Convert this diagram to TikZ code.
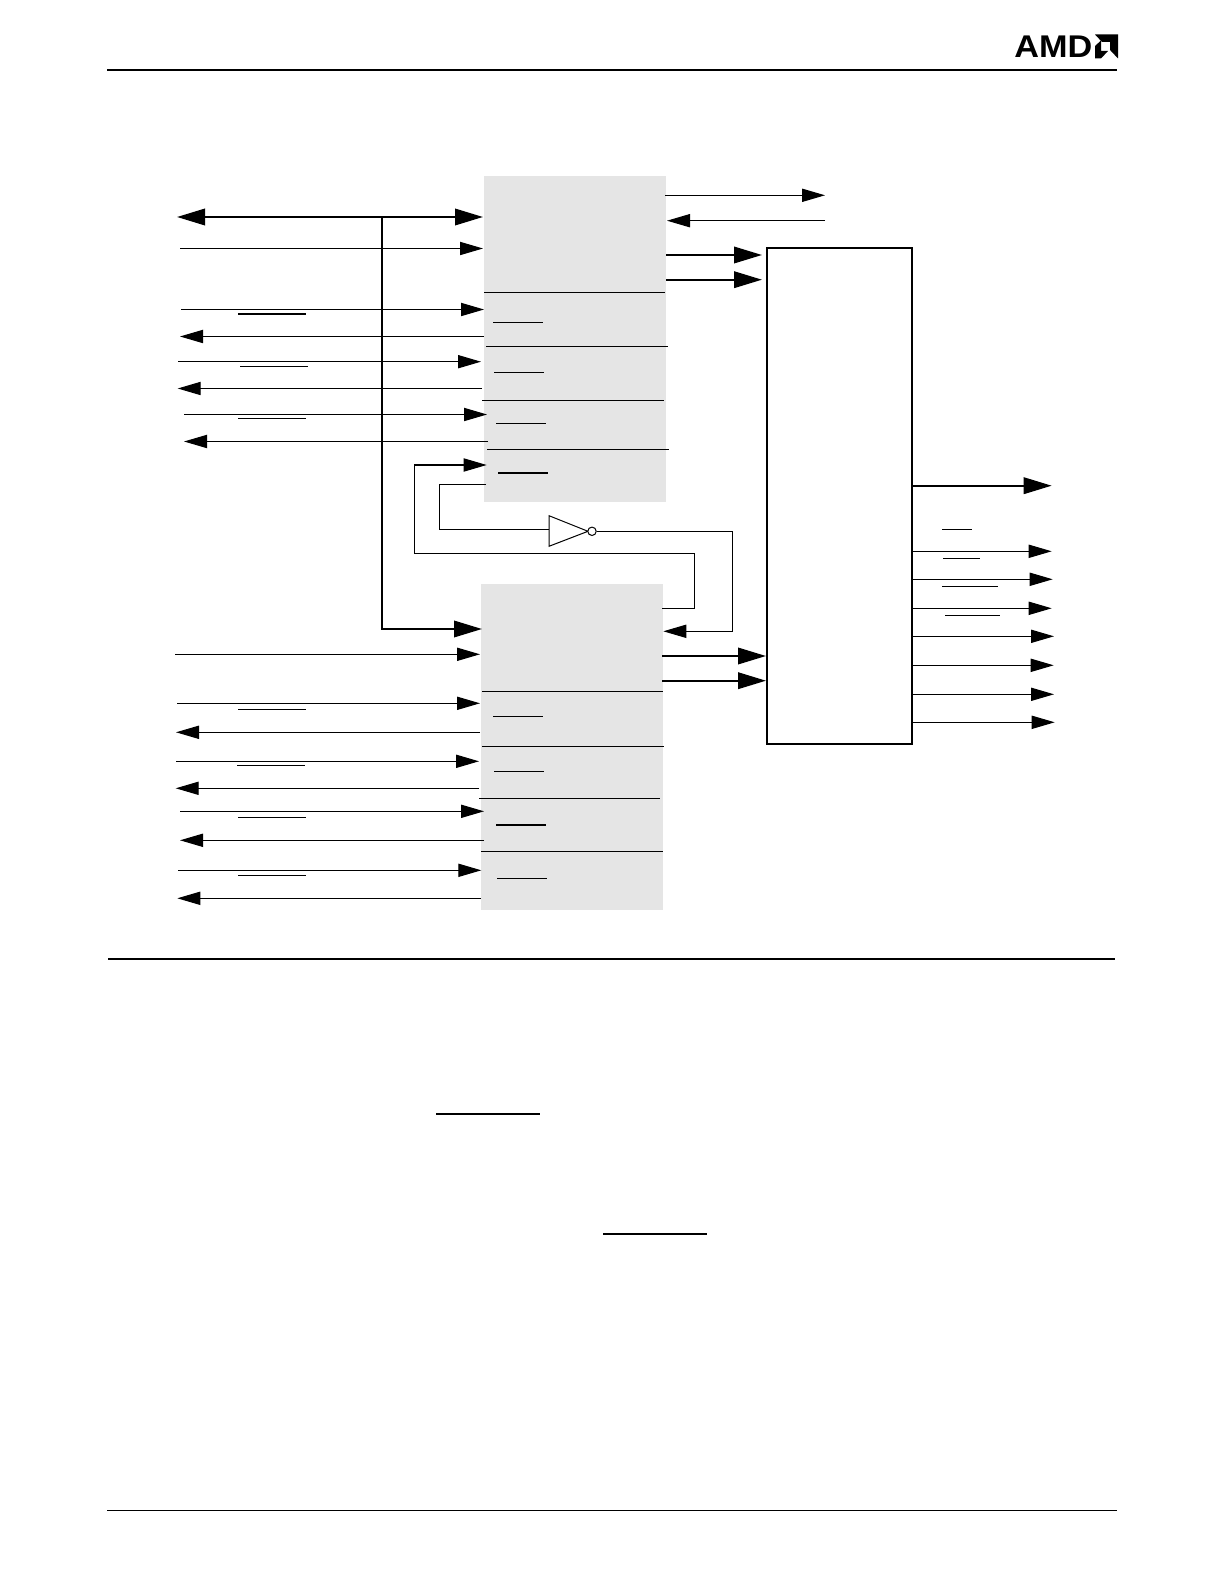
\documentclass[tikz,border=0pt]{standalone}
\usepackage{fontspec}
\usepackage{graphicx}
\setmainfont{Liberation Sans}
\usetikzlibrary{arrows.meta}
\definecolor{panelgrey}{HTML}{E5E5E5}
\tikzset{
  x=0.5pt,y=-0.5pt,
  panel/.style={rectangle,fill=panelgrey,inner sep=0pt,anchor=north west,minimum width=#1},
  thin wire/.style={line width=0.55pt,black},
  thick wire/.style={line width=1.15pt,black},
  thin arrow/.style={thin wire,-{Triangle[length=11.5pt,width=6.6pt]}},
  thick arrow/.style={thick wire,-{Triangle[length=14pt,width=8.2pt]}},
  both thick/.style={thick wire,{Triangle[length=14pt,width=8.2pt]}-{Triangle[length=14pt,width=8.2pt]}},
  sep line/.style={line width=0.5pt,black},
  bar line/.style={line width=0.5pt,black},
  bar thick/.style={line width=0.85pt,black},
  page rule/.style={line width=0.85pt,black},
}
\newcommand{\wire}[5]{\coordinate (#1s) at (#3,#5);\coordinate (#1e) at (#4,#5);\draw[#2] (#1s) -- (#1e);}
\begin{document}
\begin{tikzpicture}
\useasboundingbox (0,0) rectangle (1224,1582);
\fill[white] (0,0) rectangle (1224,1582);
% page rules
\wire{ruleA}{page rule}{107}{1117}{70}
\wire{ruleB}{page rule}{108}{1115}{959}
\wire{ruleC}{page rule}{107}{1117}{1510.5}
% logo
\node[inner sep=0pt,anchor=west] (amd) at (1014,46.5) {\resizebox{39pt}{10.8pt}{\textbf{AMD}}};
\fill[black] (1095,34.5) -- (1118,34.5) -- (1118,58.5) -- (1110,50) -- (1110,42) -- (1102,42) -- cycle;
\fill[black] (1095,58.5) -- (1095,46) -- (1101,40.5) -- (1101,51) -- (1108,51) -- (1101,58.5) -- cycle;
% panels
\node[panel=91pt,minimum height=163pt] (top) at (484,176) {};
\node[panel=91pt,minimum height=163pt] (low) at (481,584) {};
\node[rectangle,draw=black,line width=1.15pt,inner sep=0pt,anchor=north west,minimum width=72.5pt,minimum height=247.75pt,fill=white] (core) at (766,247) {};
% separators top
\wire{sa}{sep line}{484}{665}{292.3}
\wire{sb}{sep line}{486}{668}{346.3}
\wire{sc}{sep line}{482}{664}{400.3}
\wire{sd}{sep line}{487}{669}{449.3}
% separators low
\wire{se}{sep line}{482}{663}{691.3}
\wire{sf}{sep line}{482}{664}{746.3}
\wire{sg}{sep line}{479}{660}{798.3}
\wire{sh}{sep line}{481}{663}{851.3}
% bus
\wire{bus}{both thick}{177}{483}{217}
\coordinate (tap) at (382,217);
\coordinate (busin) at (482,629);
\draw[thick arrow] (tap) |- (busin);
% top left wires
\wire{ta}{thin arrow}{180}{483}{248.5}
\wire{tb}{thin arrow}{181}{484}{309.5}
\wire{tc}{thin arrow}{484}{180}{336.5}
\wire{td}{thin arrow}{178}{481}{361.7}
\wire{te}{thin arrow}{482}{177.7}{388.5}
\wire{tf}{thin arrow}{184}{487}{414.5}
\wire{tg}{thin arrow}{488}{184}{441.5}
% overbars top left
\wire{ba}{bar thick}{238}{306}{314}
\wire{bb}{bar line}{240}{308}{366.5}
\wire{bc}{bar line}{238}{306}{418.5}
\wire{bd}{bar line}{493}{543}{322.3}
\wire{be}{bar line}{494}{544}{372.3}
\wire{bf}{bar line}{496}{546}{423.3}
\wire{bg}{bar thick}{498}{548}{473}
% top right
\wire{ra}{thin arrow}{665}{825}{195.3}
\wire{rb}{thin arrow}{825}{667}{220.7}
\wire{rc}{thick arrow}{666}{762}{255}
\wire{rd}{thick arrow}{666}{762}{279.7}
% feedback
\coordinate (fbA) at (662,608.3);
\coordinate (fbB) at (694.3,553.3);
\coordinate (fbC) at (414.3,465);
\coordinate (fbD) at (486.7,465);
\draw[thin arrow] (fbA) -| (fbB) -| (fbC) -- (fbD);
\coordinate (invT) at (486,484.3);
\coordinate (invL) at (439.3,529.3);
\draw[thin wire] (invT) -| (invL) -- (549,529.3) coordinate (invIn);
\coordinate (ta1) at (549,515.7);
\coordinate (ta2) at (549,546.3);
\coordinate (ta3) at (588,531.3);
\draw[line width=0.5pt,fill=white] (ta1) -- (ta3) -- (ta2) -- cycle;
\node[circle,draw=black,line width=0.5pt,fill=white,inner sep=0pt,minimum size=4.2pt] (bub) at (592,531.3) {};
\coordinate (outB) at (732.3,631.3);
\coordinate (outC) at (663.3,631.3);
\draw[thin arrow] (bub.east) -| (outB) -- (outC);
% low right
\wire{rg}{thick arrow}{662}{766}{656}
\wire{rh}{thick arrow}{662}{766}{680.7}
% low left
\wire{la}{thin arrow}{175}{480}{654.3}
\wire{lb}{thin arrow}{177}{480}{703.3}
\wire{lc}{thin arrow}{480}{176}{732.3}
\wire{ld}{thin arrow}{176}{479}{761.3}
\wire{le}{thin arrow}{479}{175.7}{788.3}
\wire{lf}{thin arrow}{180}{484}{811.3}
\wire{lg}{thin arrow}{484}{180}{840.3}
\wire{lh}{thin arrow}{178}{481.3}{870.3}
\wire{li}{thin arrow}{481}{177.3}{898.3}
% overbars low
\wire{ca}{bar line}{238}{306}{709.3}
\wire{cb}{bar line}{237}{305}{765.3}
\wire{cc}{bar line}{238}{306}{817.3}
\wire{cd}{bar line}{238}{306}{875.3}
\wire{ce}{bar line}{493}{543}{716.3}
\wire{cf}{bar line}{494}{544}{771.3}
\wire{cg}{bar thick}{496}{546}{824.7}
\wire{ch}{bar line}{497}{547}{878.3}
% core outputs
\wire{oa}{thick arrow}{911}{1051.7}{485.7}
\wire{ob}{thin arrow}{911}{1051.7}{551.3}
\wire{oc}{thin arrow}{911}{1052.7}{579.3}
\wire{od}{thin arrow}{911}{1051.7}{608.3}
\wire{oe}{thin arrow}{911}{1054}{636.3}
\wire{of}{thin arrow}{911}{1053.7}{665.3}
\wire{og}{thin arrow}{911}{1054}{694.3}
\wire{oh}{thin arrow}{911}{1054.7}{722.3}
% output overbars
\wire{da}{bar line}{942}{971.7}{529.3}
\wire{db}{bar line}{943}{980}{558.3}
\wire{dc}{bar line}{942}{998}{586.3}
\wire{dd}{bar line}{945}{1000}{615.3}
% body overbars
\wire{ea}{page rule}{436}{540}{1114}
\wire{eb}{page rule}{603}{707}{1234.3}
\end{tikzpicture}
\end{document}
